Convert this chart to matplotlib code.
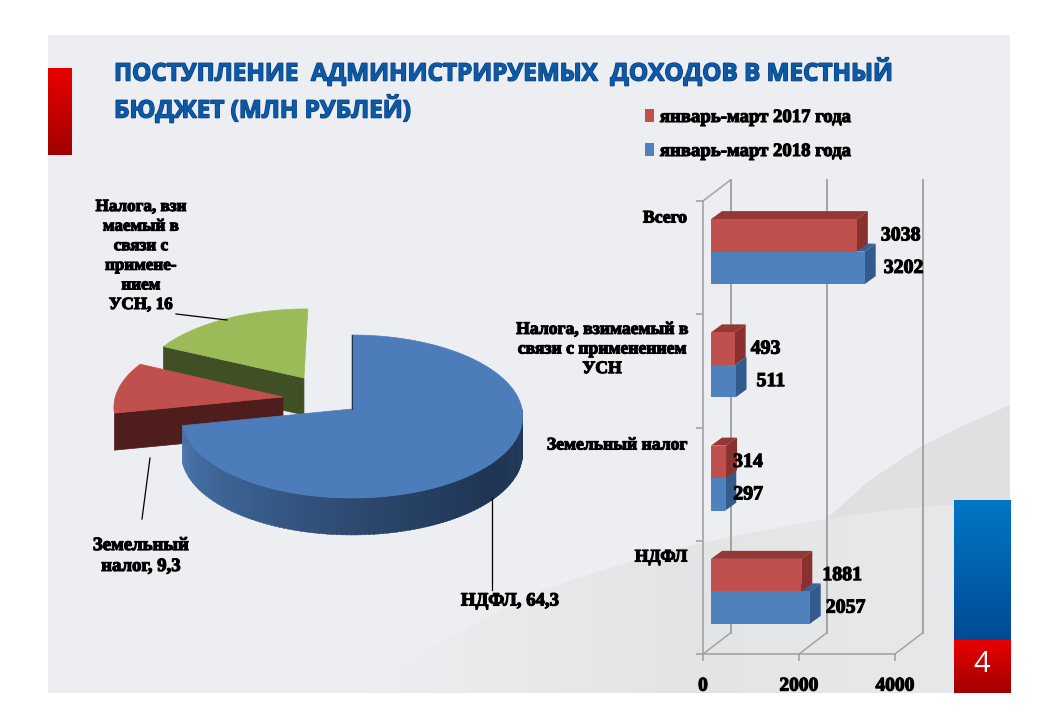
import numpy as np
import matplotlib
matplotlib.use('Agg')
import matplotlib.pyplot as plt
import matplotlib.patheffects as pe
from matplotlib.colors import LinearSegmentedColormap
from matplotlib.patches import Polygon

# Столбцы
bar_categories = ['НДФЛ', 'Земельный налог', 'Налога, взимаемый в\nсвязи с применением\nУСН', 'Всего']
values_2017 = [1881, 314, 493, 3038]
values_2018 = [2057, 297, 511, 3202]
legend_labels = ['январь-март 2017 года', 'январь-март 2018 года']
x_ticks = [0, 2000, 4000]

# Круговая диаграмма
pie_names = ['НДФЛ', 'Земельный\nналог', 'Налога, взи\nмаемый в\nсвязи с\nпримене-\nнием\nУСН']
pie_values = [64.3, 9.3, 16]

title_lines = ['ПОСТУПЛЕНИЕ  АДМИНИСТРИРУЕМЫХ  ДОХОДОВ В МЕСТНЫЙ', 'БЮДЖЕТ (МЛН РУБЛЕЙ)']
page_number = '4'

W, H = 1040, 720
RED, BLUE = '#c0504d', '#4f81bd'
RED_TOP, RED_SIDE = '#953735', '#8a302e'
BLUE_TOP, BLUE_SIDE = '#3a6295', '#335a8c'
GRID = '#a3a3a3'
SERIF = 'Liberation Serif'
bold = [pe.withStroke(linewidth=0.8, foreground='black')]

fig = plt.figure(figsize=(W / 100, H / 100), dpi=100, facecolor='white')
bg = fig.add_axes([0, 0, 1, 1])
bg.axis('off')


def gradient(x0, x1, y0, y1, colors, horizontal=False, clip=None, zorder=3):
    cm = LinearSegmentedColormap.from_list('g', colors)
    ramp = np.linspace(0, 1, 200)
    img = ramp[None, :] if horizontal else ramp[:, None]
    im = bg.imshow(img, cmap=cm, aspect='auto', extent=(x0, x1, y1, y0), zorder=zorder)
    if clip is not None:
        im.set_clip_path(Polygon(clip, transform=bg.transData))


# Фон слайда
bg.add_patch(plt.Rectangle((48, 35), 962, 658, fc='#edeef1', ec='none', zorder=0))
wave = [(367, 693), (430, 650), (490, 615), (543, 590), (610, 568), (669, 550), (750, 533), (826, 519),
        (890, 510), (958, 504), (1010, 501)]
rise = [(826, 519), (870, 480), (920, 447), (965, 425), (1010, 405)]
gradient(367, 1010, 501, 693, ['#edeef1', '#e8e9eb', '#e3e4e6', '#e6e7e9', '#e7e8ea'], horizontal=True,
         zorder=1, clip=wave + [(1010, 693)])
upper = rise + wave[:6:-1]
bg.fill([p[0] for p in upper], [p[1] for p in upper], fc='#dfe0e2', ec='none', zorder=1)

# Декоративные блоки
gradient(48, 72, 68, 155, ['#e80000', '#a00000'])
gradient(954, 1011, 500, 640, ['#0077c4', '#004a96'])
gradient(954, 1011, 640, 693, ['#ea0000', '#a00000'])
bg.text(982, 665, page_number, color='white', fontsize=21, ha='center', va='center',
        family='Open Sans', zorder=4)

# Заголовок
for line, y in zip(title_lines, [73, 110]):
    bg.text(114, y, line, color='#0c5aa6', fontsize=17.45, fontweight='bold', family='Open Sans',
            va='center', ha='left', zorder=4,
            path_effects=[pe.withStroke(linewidth=1.0, foreground='#0a3f80')])

# ---------- круговая диаграмма ----------
PIE_X, PIE_Y, PIE_A, PIE_B, PERSP, DEPTH = 352, 409, 170, 80.8, 0.092, 37


def project(u, v):
    w = 1 + PERSP * v
    return PIE_X + PIE_A * u / w, PIE_Y - PIE_B * v / w


def pol(a):
    return np.cos(np.radians(a)), np.sin(np.radians(a))


def wedge_outline(a0, a1, cu=0.0, cv=0.0):
    arc = np.linspace(a0, a1, 100)
    c, s = pol(arc)
    return np.r_[cu, cu + c], np.r_[cv, cv + s]


sweeps = 360 * np.array(pie_values) / np.sum(pie_values)
a_blue = (90 - sweeps[0], 90)
a_red = (a_blue[0] - sweeps[1], a_blue[0])
a_green = (a_red[0] - sweeps[2], a_red[0])
red_shift = (-0.4115, 0.1506)
green_shift = (-0.293, 0.398)


def extrude(x0, y0, x1, y1):
    return [(x0, y0), (x1, y1), (x1, y1 + DEPTH), (x0, y0 + DEPTH)]


# зелёный сектор
u, v = wedge_outline(a_green[0], a_green[1], *green_shift)
gx, gy = project(u, v)
cu, cv = pol(a_green[1])
x0, y0 = project(*green_shift)
x1, y1 = project(green_shift[0] + cu, green_shift[1] + cv)
bg.add_patch(Polygon(extrude(x0, y0, x1, y1), fc='#404f24', ec='#404f24', lw=0.5, zorder=5))
bg.fill(gx, gy, fc='#9bbb59', ec='#9bbb59', lw=0.5, zorder=6)

# красный сектор
u, v = wedge_outline(a_red[0], a_red[1], *red_shift)
rx, ry = project(u, v)
cu, cv = pol(a_red[1])
x0, y0 = project(*red_shift)
x1, y1 = project(red_shift[0] + cu, red_shift[1] + cv)
bg.add_patch(Polygon(extrude(x0, y0, x1, y1), fc='#4f1d1b', ec='#4f1d1b', lw=0.5, zorder=7))
bg.fill(rx, ry, fc=RED, ec=RED, lw=0.5, zorder=8)

# синий сектор: боковая поверхность с градиентом
side_cm = LinearSegmentedColormap.from_list('side', ['#4a76ac', '#3a5f8e', '#2b476c', '#1f3553', '#22395a'])
arc = np.linspace(a_blue[0], 0, 120)
for i in range(len(arc) - 1):
    c0, s0 = pol(arc[i])
    c1, s1 = pol(arc[i + 1] + 0.4)
    xa, ya = project(c0, s0)
    xb, yb = project(c1, s1)
    col = side_cm(i / (len(arc) - 2))
    bg.add_patch(Polygon(extrude(xa, ya, xb, yb), fc=col, ec=col, lw=0.3, zorder=9))
u, v = wedge_outline(a_blue[0], a_blue[1])
bx, by = project(u, v)
bg.fill(bx, by, fc='#4c7cb9', ec='#4c7cb9', lw=0.5, zorder=10)
xt, yt = project(*pol(90))
bg.plot([PIE_X, xt], [PIE_Y, yt], color='#1f3553', lw=0.8, zorder=11)

# Подписи и выноски
leader = dict(color='black', lw=0.9, zorder=12)
bg.plot([176, 227], [314, 320], **leader)
bg.plot([150, 142], [458, 519], **leader)
bg.plot([492, 492], [498, 590], **leader)


def bold_text(x, y, s, **kw):
    opts = dict(family=SERIF, fontweight='bold', fontsize=12.5, color='black', zorder=13,
                path_effects=bold, ha='center', va='center', linespacing=1.25)
    opts.update(kw)
    return bg.text(x, y, s, **opts)


def fmt(v):
    return f'{v:g}'.replace('.', ',')


bold_text(510, 601, f'{pie_names[0]}, {fmt(pie_values[0])}', fontsize=13.5)
bold_text(141, 556, f'{pie_names[1]}, {fmt(pie_values[1])}', fontsize=13.5, linespacing=1.3)
bold_text(141, 256, f'{pie_names[2]}, {fmt(pie_values[2])}', fontsize=12.3, linespacing=1.3)

# ---------- столбчатая диаграмма ----------
PX_PER_UNIT = 0.048
BAND = 113.25
ax = fig.add_axes([703 / W, 1 - 654 / H, 192 / W, 453 / H], facecolor='none')
ax.set_xlim(0, 4000)
ax.set_ylim(0, 4)
for side in ['top', 'right']:
    ax.spines[side].set_visible(False)
for side in ['left', 'bottom']:
    ax.spines[side].set_color(GRID)
    ax.spines[side].set_linewidth(1.2)
ax.set_xticks(x_ticks)
ax.set_xticklabels([str(v) for v in x_ticks], family=SERIF, fontweight='bold', fontsize=14,
                   path_effects=bold)
ax.set_yticks(range(5))
ax.set_yticklabels([])
ax.tick_params(axis='both', color=GRID, length=5, width=1.2)
ax.tick_params(axis='x', pad=12)

# задняя стенка
wall_dx, wall_dy = 27.5 / PX_PER_UNIT, 21 / BAND
for v in x_ticks:
    ax.plot([v, v + wall_dx], [0, wall_dy], color=GRID, lw=1.1, clip_on=False)
    ax.plot([v + wall_dx, v + wall_dx], [wall_dy, 4 + wall_dy], color=GRID, lw=1.4, clip_on=False)
ax.plot([0, wall_dx], [4, 4 + wall_dy], color=GRID, lw=1.1, clip_on=False)

# столбцы сдвинуты вглубь от передней грани
bar_dx, bar_dy = 8 / PX_PER_UNIT, 6 / BAND
depth_x, depth_y = 11 / PX_PER_UNIT, 8 / BAND
bar_h = 32.5 / BAND
y_pos = np.arange(len(bar_categories)) + 0.5 + bar_dy


def bar3d(vals, ys, front, top, side, zorder):
    lefts = np.full(len(vals), bar_dx)
    bars = ax.barh(ys, vals, bar_h, left=lefts, color=front, zorder=zorder + 1, clip_on=False)
    for val, y in zip(vals, ys):
        x0, x1 = bar_dx, bar_dx + val
        y0, y1 = y - bar_h / 2, y + bar_h / 2
        ax.add_patch(Polygon([(x0, y1), (x1, y1), (x1 + depth_x, y1 + depth_y), (x0 + depth_x, y1 + depth_y)],
                             fc=top, ec='none', zorder=zorder, clip_on=False))
        ax.add_patch(Polygon([(x1, y0), (x1 + depth_x, y0 + depth_y), (x1 + depth_x, y1 + depth_y), (x1, y1)],
                             fc=side, ec='none', zorder=zorder, clip_on=False))
    return bars


bars_2018 = bar3d(values_2018, y_pos - bar_h / 2, BLUE, BLUE_TOP, BLUE_SIDE, 3)
bars_2017 = bar3d(values_2017, y_pos + bar_h / 2, RED, RED_TOP, RED_SIDE, 6)

# Значения столбцов
offsets_2017 = [21, 7, 16, 24]
offsets_2018 = [16, 8, 21, 19]
lab_style = dict(family=SERIF, fontweight='bold', fontsize=14.3, va='center', ha='left',
                 textcoords='offset pixels', path_effects=bold, annotation_clip=False, zorder=20)
for i in range(len(bar_categories)):
    ax.annotate(str(values_2017[i]), (bar_dx + values_2017[i], y_pos[i] + bar_h / 2),
                xytext=(offsets_2017[i], 0), **lab_style)
    ax.annotate(str(values_2018[i]), (bar_dx + values_2018[i], y_pos[i] - bar_h / 2),
                xytext=(offsets_2018[i], 0), **lab_style)

# Подписи категорий
cat_xy = [(687, 557), (687, 445), (602, 349), (687, 218)]
for name, (cx, cy) in zip(bar_categories, cat_xy):
    bold_text(cx, cy, name, ha='center' if '\n' in name else 'right', multialignment='center',
              linespacing=1.2, fontsize=12.7)

# Легенда
leg = fig.legend([bars_2017, bars_2018], legend_labels, loc='upper left',
                 bbox_to_anchor=(628 / W, 1 - 92 / H), frameon=False, labelspacing=0.9,
                 handlelength=0.5, handleheight=0.7, handletextpad=0.3,
                 prop=dict(family=SERIF, weight='bold', size=13.5))
for txt in leg.get_texts():
    txt.set_path_effects(bold)

bg.set_xlim(0, W)
bg.set_ylim(H, 0)
fig.savefig('out.png', dpi=100, facecolor='white')
